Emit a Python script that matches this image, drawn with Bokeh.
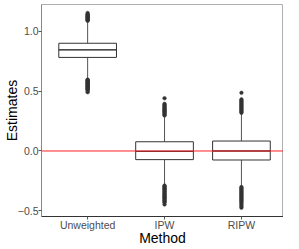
from bokeh.plotting import figure
from bokeh.models import Range1d, Span, FixedTicker
from bokeh.embed import file_html
from bokeh.resources import INLINE

methods = ["Unweighted", "IPW", "RIPW"]
q1 = [0.780, -0.072, -0.075]
median = [0.843, -0.003, 0.000]
q3 = [0.898, 0.077, 0.083]
whisker_low = [0.605, -0.282, -0.295]
whisker_high = [1.080, 0.290, 0.310]

outliers_unweighted = [1.085, 1.09, 1.095, 1.10, 1.105, 1.11, 1.115, 1.12, 1.125, 1.13, 1.135, 1.14, 1.15,
                       0.595, 0.59, 0.585, 0.58, 0.575, 0.57, 0.565, 0.56, 0.555, 0.55, 0.545, 0.54,
                       0.535, 0.53, 0.525, 0.52, 0.515, 0.51, 0.50, 0.49]
outliers_ipw = [0.44, 0.393, 0.385, 0.378, 0.37, 0.362, 0.355, 0.348, 0.34, 0.332, 0.325, 0.318, 0.31, 0.303, 0.296,
                -0.288, -0.295, -0.302, -0.31, -0.318, -0.325, -0.333, -0.34, -0.348, -0.355, -0.363, -0.37,
                -0.378, -0.385, -0.393, -0.40, -0.408, -0.415, -0.423, -0.43, -0.446]
outliers_ripw = [0.485, 0.43, 0.422, 0.414, 0.406, 0.398, 0.39, 0.382, 0.374, 0.366, 0.358, 0.35, 0.342, 0.334,
                 0.326, 0.318, -0.30, -0.308, -0.316, -0.324, -0.332, -0.34, -0.348, -0.356, -0.364, -0.372,
                 -0.38, -0.388, -0.396, -0.404, -0.412, -0.42, -0.43, -0.44, -0.452, -0.462, -0.473]
outliers = [outliers_unweighted, outliers_ipw, outliers_ripw]

y_ticks = [-0.5, 0.0, 0.5, 1.0]
y_tick_labels = {-0.5: "\u22120.5", 0.0: "0.0", 0.5: "0.5", 1.0: "1.0"}
reference_value = 0.0
x_title = "Method"
y_title = "Estimates"

xs = [i + 1 for i in range(len(methods))]

p = figure(width=283, height=249,
           x_range=Range1d(0.4, 3.547), y_range=Range1d(-0.546, 1.221),
           output_backend="svg", toolbar_location=None,
           min_border_left=35, min_border_right=0, min_border_top=4, min_border_bottom=33)

p.xgrid.visible = False
p.ygrid.visible = False
p.background_fill_color = "white"
p.border_fill_color = "white"
p.outline_line_color = "#b0b0b0"
p.outline_line_width = 1

# whiskers
p.segment(x0=xs, y0=whisker_low, x1=xs, y1=q1, line_color="#555555", line_width=1)
p.segment(x0=xs, y0=q3, x1=xs, y1=whisker_high, line_color="#555555", line_width=1)
# boxes
p.vbar(x=xs, width=0.75, bottom=q1, top=q3, fill_color="white", line_color="#333333", line_width=1)
# medians
p.rect(x=xs, y=median, width=0.75, height=0.0001, fill_alpha=0, line_color="#333333", line_width=1)

# outliers
ox, oy = [], []
for x, vals in zip(xs, outliers):
    for v in vals:
        ox.append(x)
        oy.append(v)
p.scatter(x=ox, y=oy, size=3.6, fill_color="#333333", line_color="#333333", line_width=0.5)

p.add_layout(Span(location=reference_value, dimension="width", line_color="#ff2020", line_width=1))

p.xaxis.ticker = FixedTicker(ticks=xs)
p.xaxis.major_label_overrides = {x: m for x, m in zip(xs, methods)}
p.yaxis.ticker = FixedTicker(ticks=y_ticks)
p.yaxis.major_label_overrides = y_tick_labels

for ax in (p.xaxis[0], p.yaxis[0]):
    ax.minor_tick_line_color = None
    ax.major_tick_in = 0
    ax.major_tick_out = 3
    ax.major_tick_line_color = "#555555"
    ax.major_label_text_font = "Liberation Sans"
    ax.major_label_text_font_size = "10.5px"
    ax.major_label_text_color = "#4d4d4d"
    ax.axis_label_text_font = "Liberation Sans"
    ax.axis_label_text_font_size = "14px"
    ax.axis_label_text_font_style = "normal"
    ax.axis_label_text_color = "black"

p.xaxis.axis_label = x_title
p.yaxis.axis_label = y_title
p.xaxis.axis_line_color = "#333333"
p.yaxis.axis_line_color = "#888888"
p.xaxis.axis_line_width = 1
p.yaxis.axis_line_width = 1
p.xaxis.major_label_standoff = -1
p.xaxis.axis_label_standoff = -4
p.yaxis.major_label_standoff = 0
p.yaxis.axis_label_standoff = -5

open("out.html", "w").write(file_html(p, INLINE))
